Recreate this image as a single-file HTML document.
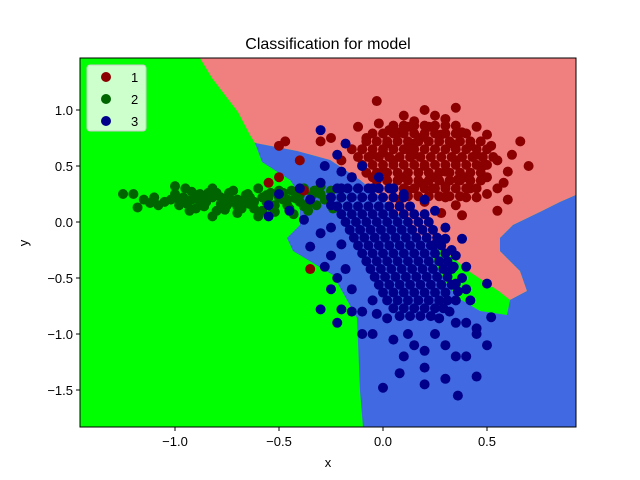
<!DOCTYPE html>
<html><head><meta charset="utf-8">
<style>
body{margin:0;background:#fff;}
svg{display:block;font-family:"Liberation Sans","DejaVu Sans",sans-serif;}
</style></head>
<body>
<svg id="chart" width="640" height="480" viewBox="0 0 640 480">
  <rect x="0" y="0" width="640" height="480" fill="#fff"/>
  <g id="plot">
    <clipPath id="clip"><rect x="80" y="58" width="496" height="369"/></clipPath>
    <g clip-path="url(#clip)">
      <rect x="80" y="58" width="496" height="369" fill="#00ff00"/>
      <polygon fill="#f08080"
        points="200,58 576,58 576,195 560,202 540,212 513,225 500,238 500,251 520,271 527,291 510,300 490,286 447,258 413,231 390,205 360,180 330,160 297,151 255,143 250,135 238,112 225,95 212,78"/>
      <polygon fill="#4169e1"
        points="255,143 297,151 330,160 360,180 390,205 413,231 447,260 480,285 507,300 510,300 527,291 520,271 500,251 500,238 513,225 540,212 560,202 576,195 576,427 363,427 360,391 357,318 333,275 293,251 287,238 300,225 300,195 290,180 262,162"/>
      <polygon fill="#00ff00"
        points="440,247 470,272 500,292 510,300 507,315 480,311 458,298 444,280 432,258"/>
    </g>
    <g id="points" clip-path="url(#clip)"></g>
    <rect x="80" y="58" width="496" height="369" fill="none" stroke="#000" stroke-width="1"/>
    <g id="xticks"></g>
    <g id="yticks"></g>
  </g>
  <text x="328" y="49" font-size="16" text-anchor="middle">Classification for model</text>
  <text x="328" y="467" font-size="13" text-anchor="middle">x</text>
  <text x="28" y="243" font-size="13" text-anchor="middle" transform="rotate(-90 28 243)">y</text>
  <g>
    <rect x="87" y="65" width="59" height="66" rx="3" fill="#ccffcc" stroke="#ccc"/>
    <g><circle cx="106" cy="77" r="5" fill="#8b0000"/><text x="131" y="82" font-size="13">1</text></g>
    <g><circle cx="106" cy="99" r="5" fill="#006400"/><text x="131" y="104" font-size="13">2</text></g>
    <g><circle cx="106" cy="121" r="5" fill="#00008b"/><text x="131" y="126" font-size="13">3</text></g>
  </g>
</svg>
<script>
const xTicks = [-1.0, -0.5, 0.0, 0.5];
const xTickLabels = ["\u22121.0", "\u22120.5", "0.0", "0.5"];
const yTicks = [1.0, 0.5, 0.0, -0.5, -1.0, -1.5];
const yTickLabels = ["1.0", "0.5", "0.0", "\u22120.5", "\u22121.0", "\u22121.5"];

const class1Points = [
[0.00,0.45],[0.05,0.55],[0.10,0.40],[0.15,0.60],[0.20,0.50],[0.25,0.65],[0.30,0.45],[0.35,0.55],[0.40,0.40],[0.45,0.60],
[0.02,0.70],[0.08,0.80],[0.12,0.65],[0.18,0.75],[0.22,0.85],[0.28,0.78],[0.33,0.70],[0.38,0.80],[0.42,0.68],[0.48,0.50],
[0.05,0.30],[0.12,0.28],[0.18,0.35],[0.24,0.30],[0.30,0.32],[0.36,0.38],[0.42,0.30],[0.50,0.40],[0.55,0.55],[0.52,0.68],
[-0.05,0.60],[-0.10,0.50],[-0.08,0.75],[-0.15,0.65],[-0.02,0.88],[0.10,0.95],[0.20,1.00],[0.30,0.92],[0.15,0.90],[0.25,0.40],
[-0.20,0.55],[-0.25,0.75],[-0.30,0.72],[-0.40,0.55],[-0.50,0.68],[-0.47,0.72],[-0.35,-0.42],[0.60,0.45],[0.66,0.72],[0.70,0.50],
[0.58,0.35],[0.62,0.60],[-0.03,1.08],[-0.12,0.85],[0.35,1.02],[0.45,0.85],[0.50,0.78],[0.08,0.20],[0.20,0.18],[-0.15,0.40],
[0.55,0.30],[0.50,0.25],[0.40,0.22],[0.30,0.22],[0.35,0.15],[0.28,0.08],[0.38,0.06],[0.60,0.20],[0.55,0.10],[0.03,0.82],
[-0.05,0.40],[-0.38,0.28],[-0.50,0.40],[-0.55,0.35],[0.25,0.95],[0.12,0.85],[0.45,0.22],[-0.10,0.65],[0.00,0.62],[0.15,0.70],
[0.05,0.86],[0.10,0.86],[0.15,0.86],[0.20,0.86],[0.25,0.86],[0.30,0.86],[0.35,0.86],
[-0.05,0.79],[0.00,0.79],[0.05,0.79],[0.10,0.79],[0.15,0.79],[0.20,0.79],[0.25,0.79],[0.30,0.79],[0.35,0.79],[0.40,0.79],
[-0.08,0.72],[-0.03,0.72],[0.02,0.72],[0.07,0.72],[0.12,0.72],[0.17,0.72],[0.22,0.72],[0.27,0.72],[0.32,0.72],[0.37,0.72],[0.42,0.72],[0.47,0.72],
[-0.10,0.65],[-0.05,0.65],[0.00,0.65],[0.05,0.65],[0.10,0.65],[0.15,0.65],[0.20,0.65],[0.25,0.65],[0.30,0.65],[0.35,0.65],[0.40,0.65],[0.45,0.65],[0.50,0.65],
[-0.12,0.58],[-0.07,0.58],[-0.02,0.58],[0.03,0.58],[0.08,0.58],[0.13,0.58],[0.18,0.58],[0.23,0.58],[0.28,0.58],[0.33,0.58],[0.38,0.58],[0.43,0.58],[0.48,0.58],[0.53,0.58],
[-0.10,0.51],[-0.05,0.51],[0.00,0.51],[0.05,0.51],[0.10,0.51],[0.15,0.51],[0.20,0.51],[0.25,0.51],[0.30,0.51],[0.35,0.51],[0.40,0.51],[0.45,0.51],[0.50,0.51],
[-0.08,0.44],[-0.03,0.44],[0.02,0.44],[0.07,0.44],[0.12,0.44],[0.17,0.44],[0.22,0.44],[0.27,0.44],[0.32,0.44],[0.37,0.44],[0.42,0.44],[0.47,0.44],
[-0.03,0.37],[0.02,0.37],[0.07,0.37],[0.12,0.37],[0.17,0.37],[0.22,0.37],[0.27,0.37],[0.32,0.37],[0.37,0.37],[0.42,0.37],[0.47,0.37],
[0.05,0.30],[0.10,0.30],[0.15,0.30],[0.20,0.30],[0.25,0.30],[0.30,0.30],[0.35,0.30],[0.40,0.30],[0.45,0.30],
[0.12,0.23],[0.17,0.23],[0.22,0.23],[0.27,0.23],[0.32,0.23],[0.37,0.23]
];
const class2Points = [
[-1.25,0.25],[-1.20,0.25],[-1.15,0.20],[-1.18,0.13],[-1.10,0.22],[-1.05,0.18],[-1.00,0.25],[-0.98,0.15],[-0.95,0.30],[-0.92,0.20],
[-0.90,0.12],[-0.88,0.25],[-0.85,0.18],[-0.82,0.30],[-0.80,0.10],[-0.78,0.22],[-0.75,0.15],[-0.72,0.28],[-0.70,0.20],[-0.68,0.12],
[-0.65,0.25],[-0.62,0.18],[-0.60,0.30],[-0.58,0.10],[-0.55,0.22],[-0.52,0.15],[-0.50,0.28],[-0.48,0.20],[-0.45,0.12],[-0.42,0.25],
[-0.40,0.18],[-0.38,0.30],[-0.35,0.20],[-0.32,0.15],[-0.30,0.25],[-0.28,0.20],[-1.02,0.20],[-0.96,0.22],[-0.86,0.20],[-0.76,0.20],
[-0.66,0.18],[-0.56,0.18],[-0.46,0.20],[-1.08,0.15],[-0.84,0.26],[-0.74,0.26],[-0.64,0.22],[-0.54,0.26],[-1.12,0.17],[-0.93,0.10],
[-0.70,0.08],[-0.60,0.05],[-0.82,0.05],[-1.00,0.32],[-0.43,0.07],[-0.36,0.10],[-0.30,0.32],[-0.25,0.28],[-0.20,0.22],[-0.24,0.12],
[-0.98,0.20],[-0.94,0.16],[-0.90,0.24],[-0.86,0.14],[-0.82,0.22],[-0.78,0.16],[-0.74,0.22],[-0.70,0.14],[-0.66,0.24],[-0.62,0.12],
[-0.58,0.22],[-0.54,0.14],[-0.50,0.22],[-0.46,0.15],[-0.42,0.21],[-0.38,0.14],[-0.34,0.24],[-0.88,0.18],[-0.80,0.26],[-0.72,0.18],
[-0.64,0.16],[-0.56,0.24],[-0.48,0.26],[-0.40,0.24],[-0.33,0.28],[-0.92,0.27],[-0.76,0.11],[-0.52,0.09],[-0.44,0.28],[-0.36,0.16]
];
const class3Points = [
[-0.55,0.15],[-0.50,0.25],[-0.45,0.10],[-0.40,0.30],[-0.35,0.20],[-0.30,0.35],[-0.25,0.15],[-0.20,0.30],[-0.15,0.40],[-0.28,0.50],
[-0.22,0.60],[-0.18,0.70],[-0.30,0.82],[-0.10,0.50],[-0.05,0.30],[-0.38,0.02],[-0.35,-0.22],[-0.30,-0.10],[-0.25,-0.05],[-0.55,0.05],
[-0.20,-0.20],[-0.18,-0.42],[-0.25,-0.30],[-0.12,0.30],[-0.02,0.40],[0.05,0.30],[0.10,0.25],[0.20,0.20],[0.25,0.10],[-0.20,0.45],
[0.35,-0.70],[0.40,-0.90],[0.45,-1.00],[0.52,-0.85],[0.50,-1.10],[0.35,-1.20],[0.30,-1.40],[0.36,-1.55],[0.45,-1.38],[0.20,-1.30],
[0.10,-1.20],[0.05,-1.05],[-0.05,-1.00],[0.15,-1.10],[0.25,-1.00],[0.35,-0.30],[0.38,-0.15],[0.30,-0.05],[-0.25,-0.60],[-0.15,-0.80],
[-0.22,-0.90],[0.08,-1.35],[0.20,-1.45],[0.25,-0.20],[0.40,-0.40],[-0.10,-1.00],[0.00,-1.48],[0.45,-0.95],[0.30,-1.10],[0.12,-1.00],
[-0.10,-0.80],[-0.05,-0.70],[0.35,-0.90],[0.40,-1.20],[0.20,-1.15],[-0.20,-0.78],[-0.30,-0.78],[0.50,-0.55],[0.42,-0.70],[0.38,-0.50],
[0.33,-0.25],[0.34,-0.40],[0.35,-0.55],[0.36,-0.62],[0.32,-0.80],[0.30,-0.15],[0.40,-0.60],[-0.28,-0.40],[-0.22,-0.50],[-0.15,-0.60],
[-0.22,0.30],[-0.17,0.30],[-0.12,0.30],[-0.07,0.30],[-0.02,0.30],[0.03,0.30],
[-0.25,0.22],[-0.20,0.22],[-0.15,0.22],[-0.10,0.22],[-0.05,0.22],[0.00,0.22],[0.05,0.22],[0.10,0.22],
[-0.22,0.14],[-0.17,0.14],[-0.12,0.14],[-0.07,0.14],[-0.02,0.14],[0.03,0.14],[0.08,0.14],[0.13,0.14],
[-0.20,0.07],[-0.15,0.07],[-0.10,0.07],[-0.05,0.07],[0.00,0.07],[0.05,0.07],[0.10,0.07],[0.15,0.07],[0.20,0.07],
[-0.18,0.00],[-0.13,0.00],[-0.08,0.00],[-0.03,0.00],[0.02,0.00],[0.07,0.00],[0.12,0.00],[0.17,0.00],[0.22,0.00],
[-0.16,-0.07],[-0.11,-0.07],[-0.06,-0.07],[-0.01,-0.07],[0.04,-0.07],[0.09,-0.07],[0.14,-0.07],[0.19,-0.07],[0.24,-0.07],
[-0.14,-0.14],[-0.09,-0.14],[-0.04,-0.14],[0.01,-0.14],[0.06,-0.14],[0.11,-0.14],[0.16,-0.14],[0.21,-0.14],[0.26,-0.14],
[-0.12,-0.21],[-0.07,-0.21],[-0.02,-0.21],[0.03,-0.21],[0.08,-0.21],[0.13,-0.21],[0.18,-0.21],[0.23,-0.21],[0.28,-0.21],
[-0.10,-0.28],[-0.05,-0.28],[0.00,-0.28],[0.05,-0.28],[0.10,-0.28],[0.15,-0.28],[0.20,-0.28],[0.25,-0.28],[0.30,-0.28],
[-0.08,-0.35],[-0.03,-0.35],[0.02,-0.35],[0.07,-0.35],[0.12,-0.35],[0.17,-0.35],[0.22,-0.35],[0.27,-0.35],[0.31,-0.35],
[-0.06,-0.42],[-0.01,-0.42],[0.04,-0.42],[0.09,-0.42],[0.14,-0.42],[0.19,-0.42],[0.24,-0.42],[0.29,-0.42],[0.33,-0.42],
[-0.04,-0.49],[0.01,-0.49],[0.06,-0.49],[0.11,-0.49],[0.16,-0.49],[0.21,-0.49],[0.26,-0.49],[0.31,-0.49],
[-0.02,-0.56],[0.03,-0.56],[0.08,-0.56],[0.13,-0.56],[0.18,-0.56],[0.23,-0.56],[0.28,-0.56],[0.33,-0.56],
[0.00,-0.63],[0.05,-0.63],[0.10,-0.63],[0.15,-0.63],[0.20,-0.63],[0.25,-0.63],[0.30,-0.63],
[0.02,-0.70],[0.07,-0.70],[0.12,-0.70],[0.17,-0.70],[0.22,-0.70],[0.27,-0.70],[0.31,-0.70],
[0.05,-0.77],[0.10,-0.77],[0.15,-0.77],[0.20,-0.77],[0.25,-0.77],[0.29,-0.77],
[0.08,-0.84],[0.13,-0.84],[0.18,-0.84],[0.23,-0.84],[0.27,-0.86],[0.02,-0.86],[-0.03,-0.82]
];

const X0 = 383, XS = 208, Y0 = 222, YS = 112;
function xScale(v){ return X0 + v * XS; }
function yScale(v){ return Y0 - v * YS; }
const NS = "http://www.w3.org/2000/svg";

const xg = document.getElementById('xticks');
xTicks.forEach((t, i) => {
  const px = xScale(t);
  const ln = document.createElementNS(NS, 'line');
  ln.setAttribute('x1', px); ln.setAttribute('x2', px);
  ln.setAttribute('y1', 427); ln.setAttribute('y2', 431);
  ln.setAttribute('stroke', '#000');
  
  
  xg.appendChild(ln);
  const tx = document.createElementNS(NS, 'text');
  tx.setAttribute('x', px); tx.setAttribute('y', 446);
  tx.setAttribute('font-size', '13'); tx.setAttribute('text-anchor', 'middle');
  tx.textContent = xTickLabels[i];
  
  
  xg.appendChild(tx);
});
const yg = document.getElementById('yticks');
yTicks.forEach((t, i) => {
  const py = yScale(t);
  const ln = document.createElementNS(NS, 'line');
  ln.setAttribute('x1', 76); ln.setAttribute('x2', 80);
  ln.setAttribute('y1', py); ln.setAttribute('y2', py);
  ln.setAttribute('stroke', '#000');
  
  
  yg.appendChild(ln);
  const tx = document.createElementNS(NS, 'text');
  tx.setAttribute('x', 73); tx.setAttribute('y', py + 5);
  tx.setAttribute('font-size', '13'); tx.setAttribute('text-anchor', 'end');
  tx.textContent = yTickLabels[i];
  
  
  yg.appendChild(tx);
});

const pg = document.getElementById('points');
function drawSeries(pts, color, name){
  pts.forEach(p => {
    const c = document.createElementNS(NS, 'circle');
    c.setAttribute('cx', xScale(p[0]));
    c.setAttribute('cy', yScale(p[1]));
    c.setAttribute('r', 5);
    c.setAttribute('fill', color);
    
    
    pg.appendChild(c);
  });
}
drawSeries(class2Points, '#006400', 'point-class-2');
drawSeries(class1Points, '#8b0000', 'point-class-1');
drawSeries(class3Points, '#00008b', 'point-class-3');
</script>
</body></html>
